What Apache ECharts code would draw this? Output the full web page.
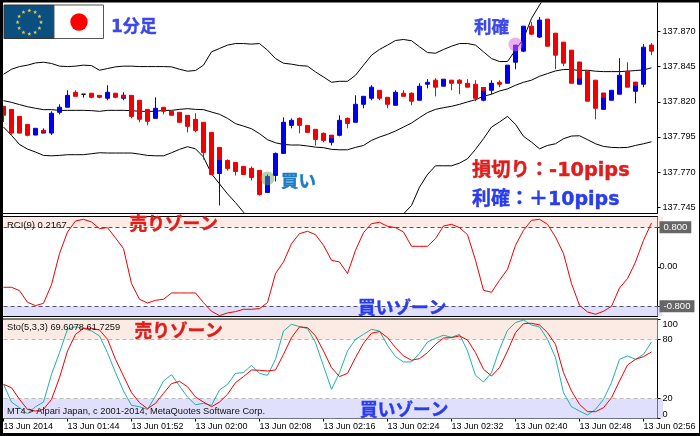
<!DOCTYPE html>
<html><head><meta charset="utf-8">
<style>html,body{margin:0;padding:0;background:#fff}#c{width:700px;height:436px}</style>
<script src="https://cdn.jsdelivr.net/npm/echarts@6/dist/echarts.min.js"></script>
</head><body><div id="c"></div>
<script>
const tickLabels = ["13 Jun 2014","13 Jun 01:44","13 Jun 01:52","13 Jun 02:00","13 Jun 02:08","13 Jun 02:16","13 Jun 02:24","13 Jun 02:32","13 Jun 02:40","13 Jun 02:48","13 Jun 02:56"];
const priceTicks = [137.745,137.770,137.795,137.820,137.845,137.870];
const rciTicks = [-0.8,0,0.8];
const stoTicks = [0,20,80,100];

const opens = [137.8168,137.8146,137.8096,137.8039,137.7963,137.7977,137.7977,137.8125,137.8161,137.8268,
137.8254,137.8261,137.8246,137.8225,137.8261,137.8225,137.8246,137.8211,137.8146,137.8082,
137.8161,137.8132,137.8125,137.8104,137.8075,137.8054,137.7982,137.7689,137.7782,137.7768,
137.7739,137.7725,137.7711,137.7554,137.7675,137.7832,137.8032,137.8082,137.8032,137.8004,
137.7975,137.7911,137.7961,137.8082,137.8054,137.8182,137.8225,137.8282,137.8232,137.8175,
137.8261,137.8261,137.8211,137.8325,137.8354,137.8311,137.8354,137.8354,137.8332,137.8325,
137.8211,137.8282,137.8339,137.8332,137.8482,137.8561,137.8739,137.8661,137.8789,137.8689,
137.8625,137.8568,137.8325,137.8418,137.8354,137.8146,137.8211,137.8254,137.8418,137.8275,
137.8325,137.8604];
const closes = [137.8104,137.7977,137.7977,137.7961,137.8011,137.7996,137.8118,137.8161,137.8246,137.8239,
137.8254,137.8232,137.8232,137.8268,137.8232,137.8246,137.8096,137.8075,137.8061,137.8154,
137.8132,137.8104,137.8054,137.8025,137.7996,137.7839,137.7682,137.7789,137.7725,137.7704,
137.7682,137.7661,137.7539,137.7668,137.7832,137.8054,137.8068,137.8032,137.7982,137.7932,
137.7925,137.7961,137.8068,137.8046,137.8182,137.8239,137.8304,137.8225,137.8182,137.8268,
137.8239,137.8204,137.8311,137.8339,137.8304,137.8361,137.8332,137.8332,137.8304,137.8225,
137.8301,137.8332,137.8325,137.8461,137.8604,137.8739,137.8682,137.8782,137.8596,137.8532,
137.8475,137.8332,137.8482,137.8204,137.8154,137.8261,137.8282,137.8389,137.8304,137.8339,
137.8589,137.8561];
const highs = [137.8168,137.8146,137.8096,137.8039,137.8011,137.8011,137.8132,137.8182,137.8282,137.8282,
137.8254,137.8261,137.8246,137.8318,137.8261,137.8268,137.8246,137.8211,137.8146,137.8232,
137.8161,137.8132,137.8125,137.8104,137.8118,137.8054,137.7982,137.7875,137.7789,137.7768,
137.7739,137.7739,137.7711,137.7682,137.7839,137.8089,137.8082,137.8089,137.8032,137.8004,
137.7982,137.7961,137.8104,137.8089,137.8246,137.8239,137.8318,137.8282,137.8232,137.8282,
137.8282,137.8268,137.8332,137.8361,137.8368,137.8361,137.8354,137.8361,137.8361,137.8354,
137.8301,137.8354,137.8354,137.8461,137.8604,137.8739,137.8768,137.8804,137.8789,137.8689,
137.8625,137.8568,137.8482,137.8418,137.8354,137.8261,137.8282,137.8511,137.8482,137.8339,
137.8611,137.8618];
const lows = [137.8056,137.7965,137.7977,137.7954,137.7963,137.7977,137.7963,137.8111,137.8161,137.8239,
137.8230,137.8225,137.8225,137.8211,137.8225,137.8211,137.8082,137.8054,137.8032,137.8082,
137.8111,137.8104,137.8054,137.7982,137.7982,137.7789,137.7682,137.7461,137.7710,137.7675,
137.7682,137.7639,137.7532,137.7554,137.7632,137.7832,137.8011,137.7975,137.7982,137.7889,
137.7911,137.7889,137.7954,137.8011,137.8054,137.8154,137.8211,137.8211,137.8154,137.8175,
137.8239,137.8175,137.8211,137.8296,137.8239,137.8311,137.8282,137.8254,137.8304,137.8204,
137.8204,137.8254,137.8304,137.8332,137.8432,137.8554,137.8675,137.8654,137.8596,137.8432,
137.8454,137.8332,137.8325,137.8204,137.8075,137.8146,137.8211,137.8254,137.8304,137.8189,
137.8304,137.8532];
// Candles whose upper part is printed red over the blue body
const mixedIndex = [5,15,27,41,60,72,75,79];
const mixedTop = [137.7996,137.8246,137.7875,137.7961,137.8301,137.8482,137.8261,137.8339];
const mixedBottom = [137.7985,137.8232,137.7789,137.7944,137.8282,137.8368,137.8232,137.8318];

const bbUpper = [137.8396,137.8432,137.8451,137.8461,137.8477,137.8482,137.8473,137.8454,137.8451,137.8454,
137.8461,137.8458,137.8425,137.8437,137.8449,137.8454,137.8454,137.8451,137.8451,137.8451,
137.8451,137.8449,137.8432,137.8418,137.8423,137.8461,137.8556,137.8580,137.8604,137.8615,
137.8615,137.8611,137.8615,137.8568,137.8508,137.8475,137.8468,137.8458,137.8454,137.8413,
137.8377,137.8339,137.8346,137.8346,137.8389,137.8461,137.8532,137.8573,137.8604,137.8637,
137.8644,137.8635,137.8592,137.8551,137.8546,137.8573,137.8596,137.8615,137.8615,137.8604,
137.8556,137.8508,137.8487,137.8487,137.8568,137.8651,137.8794,137.8889,137.8973,null,
null,null,null,null,null,null,null,null,null,null,null,null];
const bbMiddle = [137.8208,137.8196,137.8180,137.8165,137.8154,137.8144,137.8144,137.8139,137.8139,137.8139,
137.8139,137.8137,137.8132,137.8139,137.8139,137.8139,137.8137,137.8132,137.8132,137.8132,
137.8139,137.8139,137.8146,137.8151,137.8146,137.8144,137.8127,137.8111,137.8082,137.8044,
137.8027,137.8008,137.7973,137.7930,137.7908,137.7896,137.7892,137.7892,137.7885,137.7877,
137.7873,137.7861,137.7858,137.7858,137.7875,137.7889,137.7925,137.7949,137.7968,137.7992,
137.8020,137.8049,137.8087,137.8123,137.8146,137.8158,137.8168,137.8182,137.8199,137.8215,
137.8239,137.8254,137.8277,137.8292,137.8318,137.8339,137.8354,137.8382,137.8401,137.8420,
137.8430,137.8430,137.8423,137.8425,137.8418,137.8415,137.8415,137.8415,137.8418,137.8423,
137.8427,137.8442];
const bbLower = [137.8020,137.7961,137.7896,137.7863,137.7842,137.7818,137.7815,137.7818,137.7823,137.7823,
137.7823,137.7830,137.7837,137.7835,137.7835,137.7835,137.7835,137.7827,137.7818,137.7815,
137.7815,137.7837,137.7861,137.7880,137.7865,137.7806,137.7687,137.7615,137.7544,137.7482,
137.7413,137.7354,null,null,null,null,null,null,null,null,
null,null,null,null,null,null,null,null,null,137.7342,
137.7401,137.7461,137.7592,137.7682,137.7744,137.7744,137.7744,137.7763,137.7794,137.7861,
137.7937,137.8020,137.8056,137.8096,137.8039,137.7954,137.7913,137.7865,137.7889,137.7901,
137.7937,137.7956,137.7958,137.7930,137.7901,137.7882,137.7875,137.7873,137.7875,137.7889,
137.7901,137.7915];

const rci = [-0.415,-0.415,-0.483,-0.719,-0.787,-0.74,-0.361,0.267,0.705,0.928,
0.962,0.908,0.773,0.793,0.584,0.368,-0.341,-0.658,-0.733,-0.679,
-0.658,-0.53,-0.53,-0.53,-0.53,-0.726,-0.901,-0.989,-0.935,-0.908,
-0.861,-0.861,-0.847,-0.726,-0.138,0.098,0.469,0.672,0.719,0.651,
0.435,0.132,0.098,-0.138,0.334,0.692,0.874,0.901,0.82,0.793,
0.705,0.415,0.415,0.415,0.57,0.827,0.861,0.793,0.651,0.132,
-0.476,-0.517,-0.273,-0.051,0.435,0.739,0.942,0.962,0.861,0.604,
0.267,-0.341,-0.78,-0.915,-0.962,-0.901,-0.8,-0.429,-0.24,0.098,
0.537,0.888];
const stoMain = [34.5,16.6,10.9,4.8,11.9,16.6,44.6,66.5,90.1,92.8,
90.8,88.4,83.4,66.5,46.3,27.8,13.3,11.9,9.2,22.7,
37.9,44.3,32.8,21.7,13.9,15.3,13.3,28.8,34.5,45.6,
46.3,53.7,45.6,43.6,59.8,88.4,95.2,92.8,90.8,76.6,
53,29.5,46.3,68.2,80,85,90.1,88.4,73.9,62.5,
57.1,57.1,65.9,77.3,81,84.1,82,85,68.2,43.6,
36.9,46.3,69.9,89.1,96.9,99.5,94.5,92.5,80,61.5,
26.1,11.9,7.5,3.5,9.2,19.3,36.2,59.8,63.2,59.8,
64.8,77.3];
const stoSignal = [34.5,31.1,19.3,9.2,7.5,9.2,19.3,41.2,68.2,85,
91.1,91.1,89.4,80,59.8,42.9,26.1,16,9.9,15.3,
25.4,35.2,37.5,32.1,21.7,16.6,11.9,16.6,24.4,36.2,
42.3,49,48.7,48,49,64.8,81.7,92.5,91.8,83.4,
68.2,51.4,42.3,45.6,61.5,76,86.1,87.8,81.7,71.6,
63.2,58.8,60.5,66.5,74.9,81.3,81.7,83.4,79.3,66.5,
49.7,42.9,51.4,68.2,86.7,95.8,96.2,94.5,86.7,74.9,
46.3,27.8,14.3,6.9,6.9,10.9,21,37.9,54,59.8,
62.5,67.2];
const buyMark = [33, 137.7654];
const profitMark = [64, 137.8608];

const font = '"Liberation Sans",Arial,sans-serif';
const cjk = '"DejaVu Sans","Noto Sans CJK JP",sans-serif';
const pair = a => a.map((v,i)=>[i,v]);
const candleData = opens.map((o,i)=>[i,o,closes[i],lows[i],highs[i]]);
const tipData = mixedIndex.map((x,k)=>[x,mixedTop[k],mixedBottom[k],mixedBottom[k],mixedTop[k]]);
const tickValues = tickLabels.map((_,k)=>k*8);
const L=3.5, R=657.5, XMAX=(R-L)/8;
const SELL='#fbebe4', BUY='#e0e0fc';

function xAxis(idx,show){return {gridIndex:idx,type:'value',min:0,max:XMAX,show:show,splitLine:{show:false},
  axisLine:{show:show,lineStyle:{color:'#000'}},
  axisTick:{show:show,length:3,lineStyle:{color:'#000'},customValues:tickValues},
  axisLabel:{show:show,customValues:tickValues,align:'left',margin:4,color:'#000',fontFamily:font,fontSize:9,
    formatter:v=>tickLabels[Math.round(v/8)]||'',showMinLabel:true,showMaxLabel:true,hideOverlap:false}};}
function yAxis(idx,min,max,ticks,fmt,extra){return Object.assign({gridIndex:idx,type:'value',position:'right',min,max,scale:true,splitLine:{show:false},
  axisLine:{show:true,onZero:false,lineStyle:{color:'#000'}},
  axisTick:{show:true,length:3,customValues:ticks,lineStyle:{color:'#000'}}},extra||{},
  {axisLabel:Object.assign({customValues:ticks,formatter:fmt,margin:5,color:'#000',fontFamily:font,fontSize:9.2,hideOverlap:false},(extra||{}).label||{})});}
function zones(top,hi,lo,bottom){return {silent:true,z:1,itemStyle:{opacity:1},label:{show:false},data:[
  [{yAxis:hi,itemStyle:{color:SELL}},{yAxis:top}],
  [{yAxis:bottom,itemStyle:{color:BUY}},{yAxis:lo}]]};}
function dashes(hi,lo,color){return {silent:true,symbol:'none',z:2,label:{show:false},lineStyle:{color,type:[4,3],width:1},animation:false,
  data:[{yAxis:hi},{yAxis:lo}]};}
function line(name,x,y,data,color,width){return {name,type:'line',xAxisIndex:x,yAxisIndex:y,data:pair(data),symbol:'none',showSymbol:false,
  lineStyle:{color,width:width||1},itemStyle:{color},connectNulls:false,z:3,clip:true,silent:true};}

const stars=[];
for(let k=0;k<12;k++){
  const a=k*Math.PI/6, cx=29.3+11.7*Math.sin(a), cy=22.3-11.7*Math.cos(a), pts=[];
  for(let j=0;j<10;j++){const r=j%2?0.9:2.2,t=j*Math.PI/5;pts.push([cx+r*Math.sin(t),cy-r*Math.cos(t)]);}
  stars.push({type:'polygon',z:101,shape:{points:pts},style:{fill:'#e8d030'},silent:true});
}
const hline=(y)=>({type:'rect',z:60,shape:{x:3,y:y-0.5,width:654.5,height:1},style:{fill:'#000'},silent:true});
const txt=(x,y,t,size,color,family,weight,z,stroke)=>({type:'text',z:z||110,x,y,silent:true,style:Object.assign({text:t,fill:color,fontSize:size,fontFamily:family||font,fontWeight:weight||'normal',verticalAlign:'middle',align:'left'},stroke?{stroke:color,lineWidth:stroke}:{})});
const graphic=[
  {type:'rect',z:-1,shape:{x:655,y:216.5,width:8,height:11},style:{fill:SELL},silent:true},
  {type:'rect',z:-1,shape:{x:655,y:306.5,width:7,height:10},style:{fill:BUY},silent:true},
  {type:'rect',z:-1,shape:{x:655,y:398.5,width:8,height:20},style:{fill:BUY},silent:true},
  hline(213.5),hline(216.5),hline(316.5),hline(319),
  {type:'rect',z:200,shape:{x:0,y:0,width:700,height:2.5},style:{fill:'#000'},silent:true},
  {type:'rect',z:200,shape:{x:0,y:0,width:3,height:436},style:{fill:'#000'},silent:true},
  {type:'rect',z:200,shape:{x:0,y:433,width:700,height:3},style:{fill:'#000'},silent:true},
  {type:'rect',z:200,shape:{x:699,y:0,width:1,height:436},style:{fill:'#000'},silent:true},
  {type:'rect',z:100,shape:{x:4,y:5,width:50,height:33.5},style:{fill:'#0b4f80',stroke:'#333',lineWidth:1},silent:true},
  {type:'rect',z:100,shape:{x:54,y:5,width:49.5,height:33.5},style:{fill:'#fff',stroke:'#555',lineWidth:1},silent:true},
  {type:'circle',z:101,shape:{cx:79,cy:22,r:8.7},style:{fill:'#f00'},silent:true},
  ...stars,
  txt(111,27.5,'1分足',17,'#3c48e8',cjk,'bold',0,0.4),
  txt(474,28,'利確',17.5,'#3c48e8',cjk,'bold',0,0.4),
  txt(281,182,'買い',17.5,'#1e7cc4',cjk,'bold',0,0.4),
  txt(472,170.5,'損切り：-10pips',19.3,'#e01c1c',cjk,'bold',0,0.4),
  txt(472,200,'利確：＋10pips',19,'#2a3cf0',cjk,'bold',0,0.4),
  txt(129.5,225,'売りゾーン',17.7,'#e01c1c',cjk,'bold',0,0.4),
  txt(134.5,332,'売りゾーン',17.7,'#e01c1c',cjk,'bold',0,0.4),
  txt(358,309.5,'買いゾーン',17.7,'#2a3cf0',cjk,'bold',0,0.4),
  txt(360,411.5,'買いゾーン',17.7,'#2a3cf0',cjk,'bold',0,0.4),
  txt(7,225,'RCI(9) 0.2167',9.5,'#111'),
  txt(7,327,'Sto(5,3,3) 69.6078 61.7259',9.3,'#111'),
  txt(7,411,'MT4 > Alpari Japan, c 2001-2014, MetaQuotes Software Corp.',9.3,'#111')
];

const chart=echarts.init(document.getElementById('c'),null,{renderer:'canvas'});
chart.setOption({
  animation:false,backgroundColor:'#fff',
  grid:[
    {left:L,right:700-R,top:3,height:210.5},
    {left:L,right:700-R,top:216.5,height:100},
    {left:L,right:700-R,top:319,height:99.5}
  ],
  xAxis:[xAxis(0,false),xAxis(1,false),xAxis(2,true)],
  yAxis:[
    yAxis(0,137.7404,137.8904,priceTicks,v=>v.toFixed(3)),
    yAxis(1,-1.007,1.019,rciTicks,v=>v===0?'0.00':'{box|'+v.toFixed(3)+'}',
      {label:{margin:2,rich:{box:{backgroundColor:'#666',color:'#fff',fontFamily:font,fontSize:9.5,padding:[1,4,1,4]}}}}),
    yAxis(2,0,100.5,stoTicks,v=>String(v),{label:{verticalAlignMinLabel:'bottom',verticalAlignMaxLabel:'top'}})
  ],
  graphic:graphic,
  series:[
    {name:'candles',type:'candlestick',xAxisIndex:0,yAxisIndex:0,barWidth:5,data:candleData,encode:{x:0,y:[1,2,3,4]},z:4,clip:true,silent:true,
      itemStyle:{color:'#0000f0',color0:'#f00000',borderColor:'#0000f0',borderColor0:'#f00000',borderColorDoji:'#000',borderWidth:1}},
    {name:'mixed',type:'candlestick',xAxisIndex:0,yAxisIndex:0,barWidth:5,data:tipData,encode:{x:0,y:[1,2,3,4]},z:5,clip:true,silent:true,
      itemStyle:{color:'#f00000',color0:'#f00000',borderColor:'#f00000',borderColor0:'#f00000',borderWidth:1}},
    line('upper',0,0,bbUpper,'#000'),
    line('middle',0,0,bbMiddle,'#000'),
    line('lower',0,0,bbLower,'#000'),
    {name:'signals',type:'scatter',xAxisIndex:0,yAxisIndex:0,symbol:'circle',symbolSize:14,z:8,silent:true,
      data:[{value:buyMark,itemStyle:{color:'rgba(100,160,85,0.6)'}},{value:profitMark,itemStyle:{color:'rgba(222,100,225,0.65)'}}]},
    Object.assign(line('RCI',1,1,rci,'#f00000'),{markArea:zones(1.019,0.8,-0.8,-1.007),markLine:dashes(0.8,-0.8,'#555566')}),
    Object.assign(line('Sto main',2,2,stoMain,'#20b0a8'),{markArea:zones(100.5,80,20,0),markLine:dashes(80,20,'#b8b8b8')}),
    line('Sto signal',2,2,stoSignal,'#f00000')
  ]
});
</script></body></html>
